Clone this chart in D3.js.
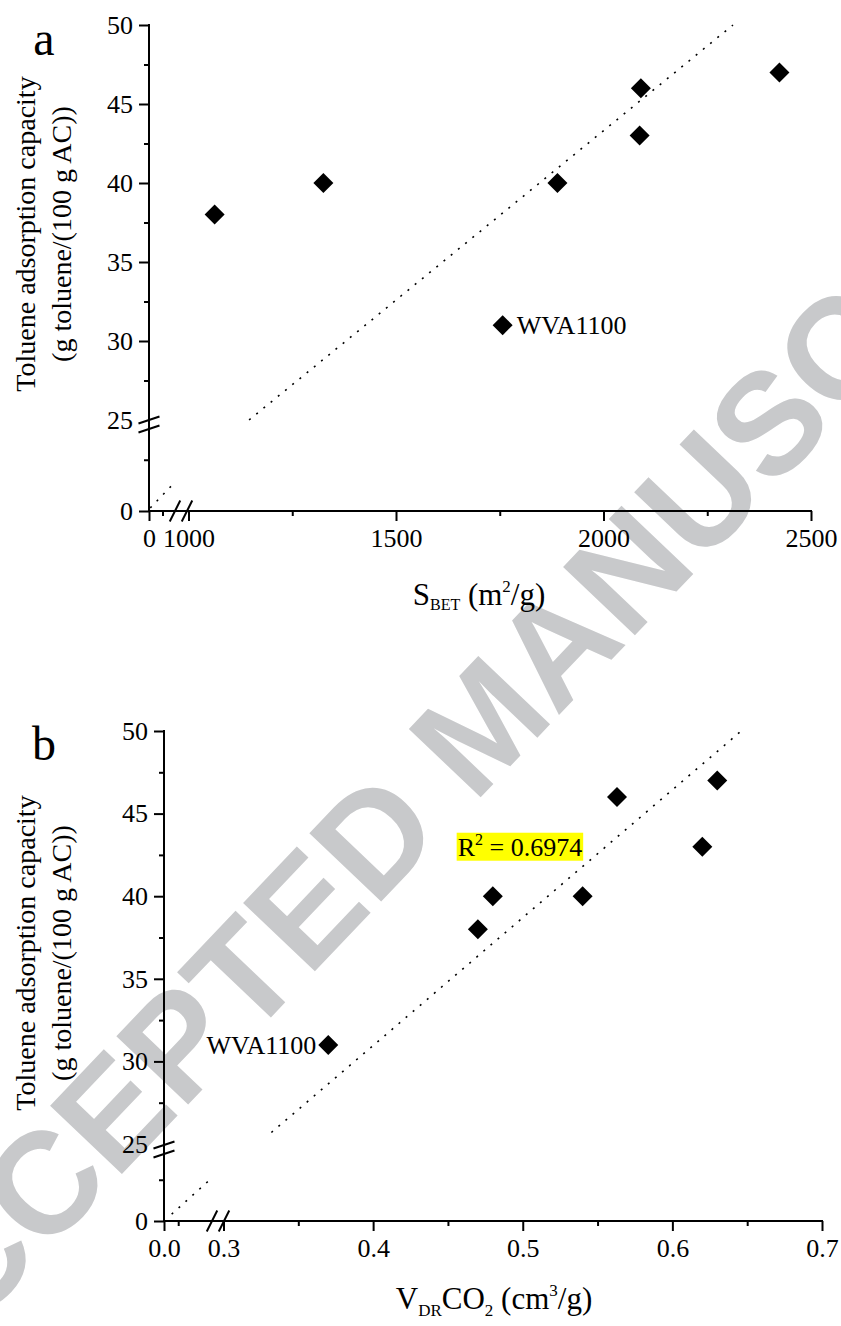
<!DOCTYPE html>
<html>
<head>
<meta charset="utf-8">
<script src="https://cdn.jsdelivr.net/npm/d3@7"></script>
<style>
  html, body { margin: 0; padding: 0; background: #fff; }
  svg { display: block; }
  text { font-family: "Liberation Serif", "Times New Roman", serif; fill: #000; }
</style>
</head>
<body>
<svg id="fig" width="841" height="1326"></svg>
<script>
// Toluene uptake of the activated carbons (same sample order in both panels)
const toluene = [38, 40, 40, 46, 43, 47, 31];
const sbet = [1063, 1325, 1889, 2090, 2087, 2424, 1757];
const vdrCO2 = [0.47, 0.48, 0.54, 0.563, 0.62, 0.63, 0.37];
const sampleLabels = ["", "", "", "", "", "", "WVA1100"];

// y axis (shared layout, broken between 20 and 25)
const yTicks = [25, 30, 35, 40, 45, 50];
const yMinor = [27.5, 32.5, 37.5, 42.5, 47.5];
const yLowTicks = [0];
const yLowMinor = [12.5];

// x axis, panel a
const sbetTicks = [1000, 1500, 2000, 2500];
const sbetMinor = [1250, 1750, 2250];
const sbetLowTicks = [0];
const sbetLowMinor = [160];

// x axis, panel b
const vdrTicks = [0.3, 0.4, 0.5, 0.6, 0.7];
const vdrMinor = [0.35, 0.45, 0.55, 0.65];
const vdrLowTicks = [0.0];
const vdrLowMinor = [0.05];

// linear trends y = slope * x + intercept, drawn over [high] and [low] x-ranges
const trendA = { slope: 0.02144, intercept: 0.43, high: [1146, 2312], low: [15, 262] };
const trendB = { slope: 77.4, intercept: 0, high: [0.332, 0.646], low: [0.027, 0.16] };
const r2B = "0.6974";

const svg = d3.select("#fig");
svg.append("rect").attr("width", 841).attr("height", 1326).attr("fill", "#fff");

// watermark behind the plots
svg.append("text")
  .attr("transform", "translate(518,758) rotate(-46.4)")
  .attr("text-anchor", "middle")
  .style("font-family", "'Liberation Sans', Arial, sans-serif")
  .style("font-weight", "bold")
  .style("font-size", "144px")
  .style("fill", "#c8c9cb")
  .text("ACCEPTED MANUSCRIPT");

const panels = [
  {
    letter: "a", letterPos: [44, 55],
    xs: sbet, ys: toluene, labelSide: "right",
    xLo: d3.scaleLinear([0, 380], [149, 181]),
    xHi: d3.scaleLinear([1000, 2500], [188.5, 811]),
    yLo: d3.scaleLinear([0, 20], [511, 429]),
    yHi: d3.scaleLinear([25, 50], [420, 25]),
    xTicks: sbetTicks, xMinor: sbetMinor, xLowTicks: sbetLowTicks, xLowMinor: sbetLowMinor,
    xFormat: d3.format("d"),
    trend: trendA,
    yTitleCenter: 234,
    xTitle: { x: 479, y: 605, parts: [["S", 0, 31], ["BET", 5, 16], [" (m", -5, 31], ["2", -13, 17], ["/g)", 13, 31]] }
  },
  {
    letter: "b", letterPos: [44, 760],
    xs: vdrCO2, ys: toluene, labelSide: "left",
    xLo: d3.scaleLinear([0, 0.19], [164, 218]),
    xHi: d3.scaleLinear([0.3, 0.7], [223.5, 822]),
    yLo: d3.scaleLinear([0, 20], [1221, 1155]),
    yHi: d3.scaleLinear([25, 50], [1144, 731]),
    xTicks: vdrTicks, xMinor: vdrMinor, xLowTicks: vdrLowTicks, xLowMinor: vdrLowMinor,
    xFormat: d3.format(".1f"),
    trend: trendB,
    r2: { x: 0.4565, y: 42.45, text: r2B },
    yTitleCenter: 953,
    xTitle: { x: 494, y: 1309, parts: [["V", 0, 31], ["DR", 7, 17], ["CO", -7, 31], ["2", 7, 17], [" (cm", -7, 31], ["3", -13, 17], ["/g)", 13, 31]] }
  }
];

function styleAxis(g) {
  g.attr("font-family", null).attr("font-size", 26);
  g.select(".domain").remove();
  g.selectAll(".tick line").attr("stroke", "#000").attr("stroke-width", 2);
  g.selectAll(".tick text").attr("fill", "#000");
  return g;
}

panels.forEach(p => {
  const g = svg.append("g");
  const x0 = p.xLo.range()[0];
  const y0 = p.yLo.range()[0];
  const xEnd = p.xHi.range()[1];
  const yEnd = p.yHi.range()[1];

  // y axes (upper and lower segments)
  styleAxis(g.append("g").attr("transform", `translate(${x0},0)`)
    .call(d3.axisLeft(p.yHi).tickValues(yTicks).tickSize(10).tickPadding(6)));
  g.selectAll(".tick").filter(d => d === 25).select("line").remove();
  styleAxis(g.append("g").attr("transform", `translate(${x0},0)`)
    .call(d3.axisLeft(p.yHi).tickValues(yMinor).tickSize(5).tickFormat("")));
  styleAxis(g.append("g").attr("transform", `translate(${x0},0)`)
    .call(d3.axisLeft(p.yLo).tickValues(yLowTicks).tickSize(10).tickPadding(6)));
  styleAxis(g.append("g").attr("transform", `translate(${x0},0)`)
    .call(d3.axisLeft(p.yLo).tickValues(yLowMinor).tickSize(5).tickFormat("")));

  // x axes (lower and upper segments)
  styleAxis(g.append("g").attr("transform", `translate(0,${y0})`)
    .call(d3.axisBottom(p.xHi).tickValues(p.xTicks).tickSize(10).tickPadding(7.5).tickFormat(p.xFormat)));
  styleAxis(g.append("g").attr("transform", `translate(0,${y0})`)
    .call(d3.axisBottom(p.xHi).tickValues(p.xMinor).tickSize(5).tickFormat("")));
  styleAxis(g.append("g").attr("transform", `translate(0,${y0})`)
    .call(d3.axisBottom(p.xLo).tickValues(p.xLowTicks).tickSize(10).tickPadding(7.5).tickFormat(p.xFormat)));
  styleAxis(g.append("g").attr("transform", `translate(0,${y0})`)
    .call(d3.axisBottom(p.xLo).tickValues(p.xLowMinor).tickSize(5).tickFormat("")));

  // axis lines
  g.append("line").attr("x1", x0).attr("x2", x0).attr("y1", y0 + 1).attr("y2", yEnd - 1)
    .attr("stroke", "#000").attr("stroke-width", 2);
  g.append("line").attr("x1", x0 - 1).attr("x2", xEnd + 1).attr("y1", y0).attr("y2", y0)
    .attr("stroke", "#000").attr("stroke-width", 2);

  // axis break marks
  const yb = (p.yHi(25) + p.yLo(20)) / 2;
  [-4.5, 4.5].forEach(o => {
    g.append("line").attr("x1", x0 - 10.5).attr("y1", yb + o + 3.5)
      .attr("x2", x0 + 10.5).attr("y2", yb + o - 3.5)
      .attr("stroke", "#000").attr("stroke-width", 2);
  });
  const xb = p.xLo.range()[1];
  [-6, 6].forEach(o => {
    g.append("line").attr("x1", xb + o - 5.25).attr("y1", y0 + 10.5)
      .attr("x2", xb + o + 5.25).attr("y2", y0 - 10.5)
      .attr("stroke", "#000").attr("stroke-width", 2);
  });

  // dotted trend line in both axis segments
  const t = p.trend;
  const f = x => t.slope * x + t.intercept;
  const lineHi = d3.line().x(d => p.xHi(d)).y(d => p.yHi(f(d)));
  const lineLo = d3.line().x(d => p.xLo(d)).y(d => p.yLo(f(d)));
  [[lineHi, t.high], [lineLo, t.low]].forEach(([gen, ext]) => {
    g.append("path").attr("d", gen(ext))
      .attr("fill", "none").attr("stroke", "#000")
      .attr("stroke-width", 1.6).attr("stroke-dasharray", "2 7.3");
  });

  // data points
  const diamond = d3.symbol(d3.symbolSquare, 200);
  const pts = p.xs.map((x, i) => ({ x, y: p.ys[i], label: sampleLabels[i] }));
  g.selectAll("path.pt").data(pts).join("path")
    .attr("class", "pt")
    .attr("d", diamond)
    .attr("transform", d => `translate(${p.xHi(d.x)},${p.yHi(d.y)}) rotate(45)`)
    .attr("fill", "#000");

  g.selectAll("text.lbl").data(pts.filter(d => d.label)).join("text")
    .attr("class", "lbl")
    .attr("x", d => p.xHi(d.x) + (p.labelSide === "right" ? 14 : -12))
    .attr("y", d => p.yHi(d.y))
    .attr("dy", "0.34em")
    .attr("text-anchor", p.labelSide === "right" ? "start" : "end")
    .attr("font-size", 26)
    .text(d => d.label);

  // R² annotation with highlighted background
  if (p.r2) {
    const tg = g.append("g");
    const txt = tg.append("text")
      .attr("x", p.xHi(p.r2.x)).attr("y", p.yHi(p.r2.y))
      .attr("font-size", 26);
    txt.append("tspan").text("R");
    txt.append("tspan").attr("font-size", 16).attr("dy", -11).text("2");
    txt.append("tspan").attr("dy", 11).text(" = " + p.r2.text);
    const bb = txt.node().getBBox();
    tg.insert("rect", "text")
      .attr("x", bb.x - 1).attr("y", bb.y + 2)
      .attr("width", bb.width + 2).attr("height", bb.height - 3)
      .attr("fill", "#ffff00");
  }

  // panel letter
  g.append("text").attr("x", p.letterPos[0]).attr("y", p.letterPos[1])
    .attr("text-anchor", "middle").attr("font-size", 48).text(p.letter);

  // y title, two lines
  [["Toluene adsorption capacity", 35], ["(g toluene/(100 g AC))", 71]].forEach(([s, x]) => {
    g.append("text")
      .attr("transform", `translate(${x},${p.yTitleCenter}) rotate(-90)`)
      .attr("text-anchor", "middle").attr("font-size", 28).text(s);
  });

  // x title with sub/superscripts
  const xt = g.append("text").attr("x", p.xTitle.x).attr("y", p.xTitle.y)
    .attr("text-anchor", "middle");
  p.xTitle.parts.forEach(([s, dy, fs]) => {
    xt.append("tspan").attr("dy", dy).attr("font-size", fs).text(s);
  });
});
</script>
</body>
</html>
